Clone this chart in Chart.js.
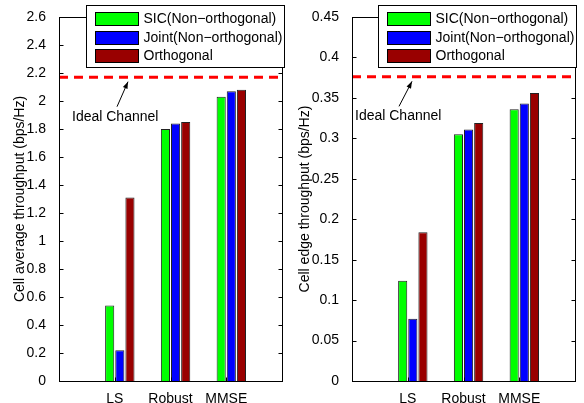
<!DOCTYPE html>
<html lang="en">
<head>
<meta charset="utf-8" />
<title>Cell throughput</title>
<script src="https://cdn.jsdelivr.net/npm/chart.js"></script>
<style>
  body { margin: 0; background: #fff; }
  canvas { position: absolute; top: 0; }
</style>
</head>
<body>
<canvas id="avgChart" width="292" height="403" style="left:0"></canvas>
<canvas id="edgeChart" width="292" height="403" style="left:292px"></canvas>
<script>
// data
const categories = ['LS', 'Robust', 'MMSE'];
const seriesNames = ['SIC(Non\u2212orthogonal)', 'Joint(Non\u2212orthogonal)', 'Orthogonal'];
const seriesColors = ['#00ff00', '#0000ff', '#990000'];

const avgSIC = [0.54, 1.80, 2.03];
const avgJoint = [0.22, 1.84, 2.07];
const avgOrth = [1.31, 1.85, 2.08];
const avgIdeal = 2.17;

const edgeSIC = [0.124, 0.305, 0.336];
const edgeJoint = [0.077, 0.311, 0.343];
const edgeOrth = [0.184, 0.319, 0.356];
const edgeIdeal = 0.376;

// x runs 0..4 with the groups at 1,2,3
const labels = ['', ...categories, ''];

Chart.defaults.font.family = '"Liberation Sans", Arial, Helvetica, sans-serif';
Chart.defaults.font.size = 14;
Chart.defaults.color = '#000';

const decor = {
  id: 'decor',
  afterDraw(chart, args, opts) {
    const ctx = chart.ctx;
    const a = chart.chartArea;
    const xs = chart.scales.x, ys = chart.scales.y;
    const L = Math.round(a.left) + 0.5, R = Math.round(a.right) + 0.5;
    const T = Math.round(a.top) + 0.5, B = Math.round(a.bottom) + 0.5;
    ctx.save();
    ctx.strokeStyle = '#000';
    ctx.lineWidth = 1;
    ctx.beginPath();
    ys.ticks.forEach(t => {
      const py = Math.round(ys.getPixelForValue(t.value)) + 0.5;
      ctx.moveTo(L, py); ctx.lineTo(L + 4, py);
      ctx.moveTo(R, py); ctx.lineTo(R - 4, py);
    });
    for (let i = 1; i <= categories.length; i++) {
      const px = Math.round(xs.getPixelForTick(i)) + 0.5;
      ctx.moveTo(px, B); ctx.lineTo(px, B - 4);
      ctx.moveTo(px, T); ctx.lineTo(px, T + 4);
    }
    ctx.stroke();
    ctx.strokeRect(L, T, R - L, B - T);

    // "Ideal Channel" note with arrow
    const iy = ys.getPixelForValue(opts.ideal);
    const hx = a.left + opts.arrowX, hy = iy + 4.5;
    const tx = a.left + opts.arrowX - opts.arrowDx, ty = iy + 29.5;
    ctx.beginPath();
    ctx.moveTo(tx, ty); ctx.lineTo(hx, hy);
    ctx.stroke();
    const ang = Math.atan2(hy - ty, hx - tx);
    ctx.fillStyle = '#000';
    ctx.beginPath();
    ctx.moveTo(hx, hy);
    ctx.lineTo(hx - 7 * Math.cos(ang) + 2.5 * Math.sin(ang), hy - 7 * Math.sin(ang) - 2.5 * Math.cos(ang));
    ctx.lineTo(hx - 7 * Math.cos(ang) - 2.5 * Math.sin(ang), hy - 7 * Math.sin(ang) + 2.5 * Math.cos(ang));
    ctx.closePath();
    ctx.fill();
    ctx.font = Chart.defaults.font.size + 'px ' + Chart.defaults.font.family;
    ctx.textAlign = 'left';
    ctx.textBaseline = 'middle';
    ctx.fillText('Ideal Channel', a.left + opts.textX, iy + 39.5);

    // legend box
    const bx = 86.5, by = 5.5, bw = 198, bh = 62;
    ctx.fillStyle = '#fff';
    ctx.fillRect(bx, by, bw, bh);
    ctx.strokeRect(bx, by, bw, bh);
    seriesNames.forEach((name, i) => {
      const sy = 12 + i * 18.7;
      ctx.fillStyle = seriesColors[i];
      ctx.fillRect(95.5, Math.round(sy) + 0.5, 43, 13);
      ctx.strokeRect(95.5, Math.round(sy) + 0.5, 43, 13);
      ctx.fillStyle = '#000';
      ctx.fillText(name, 143.5, sy + 7);
    });
    ctx.restore();
  }
};

function makeChart(id, sic, joint, orth, ideal, yMax, yStep, yTitle, extra) {
  const barSet = (name, vals, color) => ({
    label: name,
    data: [null, ...vals, null],
    backgroundColor: color,
    borderColor: '#222',
    borderWidth: 1,
    categoryPercentage: 0.727,
    barPercentage: 0.9,
    order: 2
  });
  return new Chart(document.getElementById(id), {
    type: 'bar',
    data: {
      labels: labels,
      datasets: [
        // empty first slot of each group (keeps the bars right of the tick)
        { label: '', data: [null, 0, 0, 0, null], backgroundColor: 'rgba(0,0,0,0)', borderWidth: 0,
          categoryPercentage: 0.727, barPercentage: 0.9, order: 2 },
        barSet(seriesNames[0], sic, seriesColors[0]),
        barSet(seriesNames[1], joint, seriesColors[1]),
        barSet(seriesNames[2], orth, seriesColors[2]),
        {
          type: 'line',
          label: 'Ideal Channel',
          data: labels.map(() => ideal),
          borderColor: '#ff0000',
          borderWidth: 3,
          borderDash: [9, 6],
          pointRadius: 0,
          order: 1
        }
      ]
    },
    options: {
      responsive: false,
      animation: false,
      layout: { padding: { left: 0, right: extra.right, top: 17, bottom: 0 } },
      plugins: {
        legend: { display: false },
        tooltip: { enabled: false },
        decor: { ideal: ideal, arrowX: extra.arrowX, arrowDx: extra.arrowDx, textX: extra.textX }
      },
      scales: {
        x: {
          offset: false,
          grid: { display: false },
          border: { display: false },
          ticks: { autoSkip: false, maxRotation: 0, padding: 2 },
          afterFit: s => { s.height = 22; }
        },
        y: {
          min: 0,
          max: yMax,
          grid: { display: false },
          border: { display: false },
          ticks: { stepSize: yStep, padding: 5, callback: v => String(+v.toFixed(2)) },
          title: { display: true, text: yTitle, padding: { top: extra.titlePad, bottom: 0 } },
          afterFit: s => { s.width = extra.axisW; }
        }
      }
    },
    plugins: [decor]
  });
}

makeChart('avgChart', avgSIC, avgJoint, avgOrth, avgIdeal, 2.6, 0.2,
  'Cell average throughput (bps/Hz)',
  { right: 10, axisW: 59, titlePad: 11.5, arrowX: 69, arrowDx: 11, textX: 13 });
makeChart('edgeChart', edgeSIC, edgeJoint, edgeOrth, edgeIdeal, 0.45, 0.05,
  'Cell edge throughput (bps/Hz)',
  { right: 9, axisW: 60, titlePad: 5, arrowX: 60, arrowDx: 13, textX: 3 });
</script>
</body>
</html>
